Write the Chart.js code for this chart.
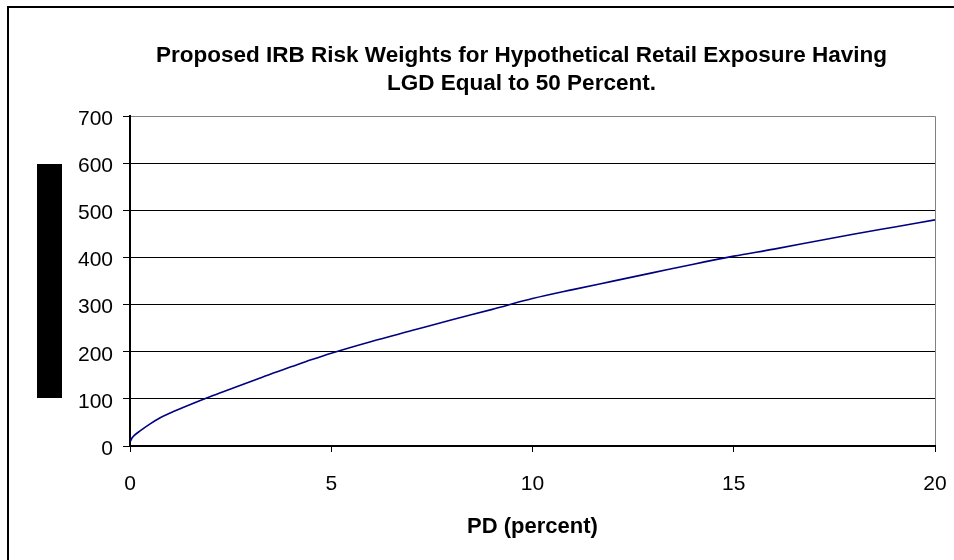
<!DOCTYPE html>
<html>
<head>
<meta charset="utf-8">
<script src="https://cdn.jsdelivr.net/npm/chart.js"></script>
<style>
  html, body { margin: 0; padding: 0; background: #fff; }
  #wrap { width: 954px; height: 560px; }
</style>
</head>
<body>
<div id="wrap"><canvas id="myChart" width="954" height="560"></canvas></div>
<script>
// values
const pd = [0, 0.05, 0.1, 0.25, 0.5, 0.75, 1, 1.5, 2, 2.5, 3, 3.5, 4, 4.5, 5, 6, 7, 8, 9, 10, 11, 12, 13, 14, 15, 16, 17, 18, 19, 20];
const riskWeight = [8, 17, 22, 32, 47, 60, 70, 88, 105, 121, 137, 153, 168, 183, 197, 222, 245, 268, 290, 313, 332, 350, 368, 386, 403, 418, 434, 450, 465, 480];
const titleLines = ['Proposed IRB Risk Weights for Hypothetical Retail Exposure Having', 'LGD Equal to 50 Percent.'];
const xTitle = 'PD (percent)';
const xTicks = {min: 0, max: 20, step: 5};
const yTicks = {min: 0, max: 700, step: 100};

const FONT = "'Liberation Sans', Arial, sans-serif";

// frame lines + the black block left of the y axis
const decor = {
  id: 'decor',
  afterLayout(chart) {
    // title in the original is centred a bit right of the canvas centre
    if (chart.titleBlock) chart.titleBlock.left = 108;
  },
  beforeDraw(chart) {
    const c = chart.ctx;
    c.save();
    c.fillStyle = '#fff';
    c.fillRect(0, 0, chart.width, chart.height);
    c.restore();
  },
  afterDraw(chart) {
    const c = chart.ctx;
    const a = chart.chartArea;
    c.save();
    c.fillStyle = '#000';
    c.fillRect(7, 6, chart.width - 7, 2);
    c.fillRect(7, 6, 2, chart.height - 6);
    c.fillRect(a.left - 93, 164, 25, 234);
    c.restore();
  }
};

const ctx = document.getElementById('myChart');
new Chart(ctx, {
  type: 'line',
  data: {
    datasets: [
      {
        label: 'Risk weight',
        data: pd.map((x, i) => ({x: x, y: riskWeight[i]})),
        borderColor: '#000080',
        borderWidth: 1.6,
        pointRadius: 0,
        cubicInterpolationMode: 'monotone',
        fill: false,
      },
    ],
  },
  options: {
    responsive: false,
    animation: false,
    events: [],
    layout: {
      padding: {left: 0, right: 19, top: 0, bottom: 0},
    },
    plugins: {
      legend: {display: false},
      tooltip: {enabled: false},
      title: {
        display: true,
        text: titleLines,
        color: '#000',
        font: {family: FONT, size: 22.5, weight: 'bold', lineHeight: 1.25},
        padding: {top: 42, bottom: 18},
      },
    },
    scales: {
      x: {
        type: 'linear',
        min: xTicks.min,
        max: xTicks.max,
        afterFit: s => {
          s.height = 114;
          s.paddingLeft = 0;
          s.paddingRight = 0;
        },
        ticks: {
          stepSize: xTicks.step,
          color: '#000',
          padding: 20,
          font: {family: FONT, size: 21},
          maxRotation: 0,
        },
        grid: {
          drawOnChartArea: true,
          color: c => (c.tick && c.tick.value === xTicks.max ? '#808080' : 'rgba(0,0,0,0)'),
          tickColor: '#000',
          tickLength: 6,
          lineWidth: 1,
        },
        border: {display: true, color: '#000', width: 2},
        title: {
          display: true,
          text: xTitle,
          color: '#000',
          font: {family: FONT, size: 22, weight: 'bold', lineHeight: 1.2},
          padding: {top: 0, bottom: 20},
        },
      },
      y: {
        min: yTicks.min,
        max: yTicks.max,
        afterFit: s => { s.width = 130; },
        ticks: {
          stepSize: yTicks.step,
          color: '#000',
          padding: 10,
          labelOffset: 3,
          font: {family: FONT, size: 21},
        },
        grid: {
          color: c => (c.tick && c.tick.value === yTicks.max ? '#808080' : '#000'),
          tickColor: '#000',
          tickLength: 7,
          lineWidth: 1,
        },
        border: {display: true, color: '#000', width: 2},
      },
    },
  },
  plugins: [decor],
});
</script>
</body>
</html>
